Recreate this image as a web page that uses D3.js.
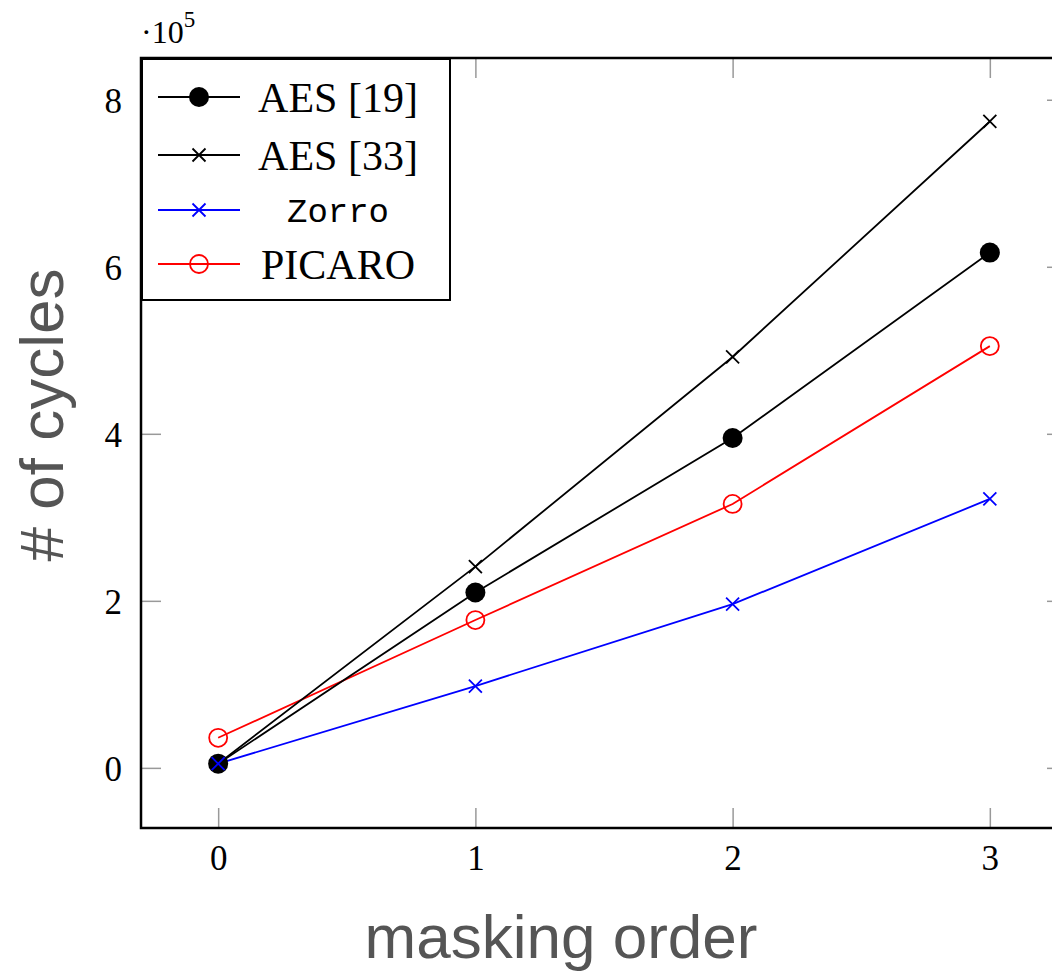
<!DOCTYPE html>
<html lang="en">
<head>
<meta charset="UTF-8">
<title>Cycles vs masking order</title>
<script src="https://d3js.org/d3.v7.min.js"></script>
<style>
    body { margin: 0; background: #fff; }
    .tick line { stroke: #999; stroke-width: 1.5px; }
    .tick text { font-family: "Liberation Serif", serif; font-size: 35px; fill: #000; }
</style>
</head>
<body>
<script>

// masking orders
var orders = [0, 1, 2, 3];

// cycle counts per series
var aes19 = [5000, 210000, 395000, 617000];
var aes33 = [5000, 241000, 492000, 774000];
var zorro = [5000, 98000, 196000, 322000];
var picaro = [36000, 177000, 316000, 505000];

var seriesNames = ["AES [19]", "AES [33]", "Zorro", "PICARO"];
var yTicks = [0, 200000, 400000, 600000, 800000];

var width = 1052, height = 973;
// plot box (note: "top" is taken by window.top, so prefixed names)
var pLeft = 141, pRight = 1067, pTop = 58, pBottom = 828;

var svg = d3.select("body").append("svg")
    .attr("width", width)
    .attr("height", height);

var x = d3.scaleLinear().domain([-0.3, 3.3]).range([pLeft, pRight]);
var y = d3.scaleLinear().domain([-72000, 850000]).range([pBottom, pTop]);

// axes with inward ticks, mirrored on top / right
svg.append("g")
    .attr("transform", "translate(0," + pBottom + ")")
    .call(d3.axisBottom(x).tickValues(orders).tickSizeInner(-20).tickSizeOuter(0).tickPadding(17).tickFormat(d3.format("d")))
    .call(function (g) { g.select(".domain").remove(); });

svg.append("g")
    .attr("transform", "translate(" + pLeft + ",0)")
    .call(d3.axisLeft(y).tickValues(yTicks).tickSizeInner(-20).tickSizeOuter(0).tickPadding(19).tickFormat(function (d) { return d / 1e5; }))
    .call(function (g) { g.select(".domain").remove(); })
    .selectAll("text").attr("dy", "0.35em");

svg.append("g")
    .attr("transform", "translate(0," + pTop + ")")
    .call(d3.axisTop(x).tickValues(orders).tickSizeInner(-20).tickSizeOuter(0).tickFormat(""))
    .call(function (g) { g.select(".domain").remove(); });

svg.append("g")
    .attr("transform", "translate(" + pRight + ",0)")
    .call(d3.axisRight(y).tickValues(yTicks).tickSizeInner(-20).tickSizeOuter(0).tickFormat(""))
    .call(function (g) { g.select(".domain").remove(); });

// frame
svg.append("rect")
    .attr("x", pLeft).attr("y", pTop)
    .attr("width", pRight - pLeft).attr("height", pBottom - pTop)
    .attr("fill", "none")
    .attr("stroke", "#000")
    .attr("stroke-width", 2.5);

// scale factor label
var sf = svg.append("text")
    .attr("x", 141).attr("y", 43)
    .style("font-family", "Liberation Serif, serif")
    .style("font-size", "32px");
sf.append("tspan").text("\u00b710");
sf.append("tspan").attr("dy", -16).style("font-size", "23px").text("5");

var line = d3.line()
    .x(function (d, i) { return x(orders[i]); })
    .y(function (d) { return y(d); });

function crossPath(s) {
    return "M" + (-s) + "," + (-s) + "L" + s + "," + s + "M" + (-s) + "," + s + "L" + s + "," + (-s);
}

var series = [
    {name: seriesNames[0], values: aes19, color: "#000", marker: "dot"},
    {name: seriesNames[1], values: aes33, color: "#000", marker: "cross"},
    {name: seriesNames[2], values: zorro, color: "#00f", marker: "cross"},
    {name: seriesNames[3], values: picaro, color: "#f00", marker: "circle"}
];

function drawMarker(g, type, color) {
    if (type === "dot") {
        g.append("circle").attr("r", 10).attr("fill", "#000");
    } else if (type === "circle") {
        g.append("circle").attr("r", 9).attr("fill", "none").attr("stroke", color).attr("stroke-width", 1.8);
    } else {
        g.append("path").attr("d", crossPath(6.5)).attr("stroke", color).attr("stroke-width", 1.8).attr("fill", "none");
    }
}

// draw in order so that Zorro's crosses sit on top of the black dot at 0
var drawOrder = [3, 1, 0, 2];
drawOrder.forEach(function (k) {
    var s = series[k];
    svg.append("path")
        .datum(s.values)
        .attr("d", line)
        .attr("fill", "none")
        .attr("stroke", s.color)
        .attr("stroke-width", 1.8);
});
drawOrder.forEach(function (k) {
    var s = series[k];
    s.values.forEach(function (v, i) {
        var g = svg.append("g").attr("transform", "translate(" + x(orders[i]) + "," + y(v) + ")");
        drawMarker(g, s.marker, s.color);
    });
});

// legend
var lg = svg.append("g");
lg.append("rect")
    .attr("x", 142).attr("y", 59)
    .attr("width", 308).attr("height", 241)
    .attr("fill", "#fff")
    .attr("stroke", "#000")
    .attr("stroke-width", 2);

var rowY = [97, 155, 210, 264];
series.forEach(function (s, i) {
    var g = lg.append("g").attr("transform", "translate(0," + rowY[i] + ")");
    g.append("line")
        .attr("x1", 158).attr("x2", 240)
        .attr("stroke", s.color).attr("stroke-width", 1.8);
    var m = g.append("g").attr("transform", "translate(199,0)");
    drawMarker(m, s.marker, s.color);
    g.append("text")
        .attr("x", 338).attr("y", 0)
        .attr("dy", "0.35em")
        .attr("text-anchor", "middle")
        .style("font-family", s.name === "Zorro" ? "Liberation Mono, monospace" : "Liberation Serif, serif")
        .style("font-size", s.name === "Zorro" ? "34px" : "42px")
        .text(s.name);
});

// axis titles
svg.append("text")
    .attr("x", 561).attr("y", 958)
    .attr("text-anchor", "middle")
    .style("font-family", "Liberation Sans, Arial, sans-serif")
    .style("font-size", "62px")
    .style("fill", "#555")
    .text("masking order");

svg.append("text")
    .attr("transform", "translate(63,415) rotate(-90)")
    .attr("text-anchor", "middle")
    .style("font-family", "Liberation Sans, Arial, sans-serif")
    .style("font-size", "62px")
    .style("fill", "#555")
    .text("# of cycles");

</script>
</body>
</html>
